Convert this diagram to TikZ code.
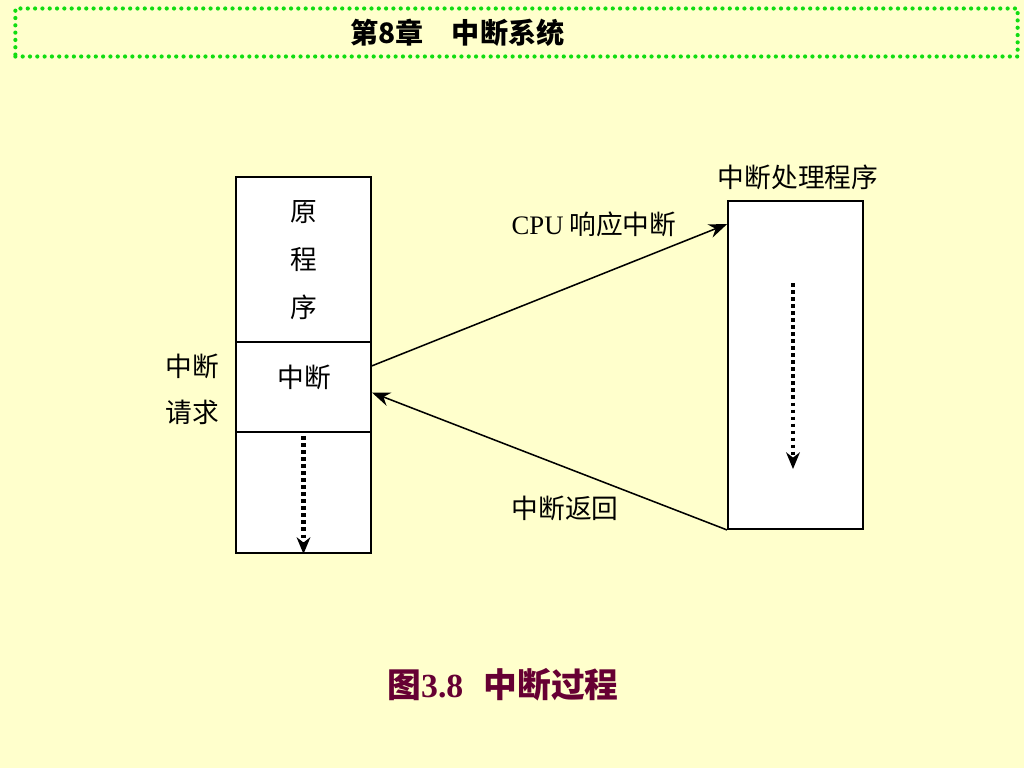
\documentclass[tikz,border=0pt]{standalone}
\usepackage{fontspec}
\setmainfont{Liberation Serif}
\newfontfamily\cjk{Noto Sans CJK SC}
\usetikzlibrary{arrows.meta,calc}

\definecolor{pagebg}{HTML}{FFFFCC}
\definecolor{dotgreen}{HTML}{11DD11}
\definecolor{capred}{HTML}{660033}

\tikzset{
  progbox/.style={draw, line width=1.3pt, fill=white, minimum width=3.375cm, inner sep=0pt},
  lbl/.style={font=\fontsize{19}{21}\selectfont\cjk, inner sep=1pt},
  flow/.style={line width=1.1pt, -{Stealth[length=13pt, width=10pt]}},
  run/.style={line width=3.2pt, dash pattern=on 2.6pt off 2.4pt, -{Stealth[length=12pt, width=10pt, line width=0pt]}}
}

\begin{document}
\begin{tikzpicture}[x=0.025cm, y=-0.025cm]
  \fill[pagebg] (0,0) rectangle (1024,768);
  \useasboundingbox (0,0) rectangle (1024,768);

  % header
  \node[draw=dotgreen, line width=3pt, dash pattern=on 0pt off 5.2pt, line cap=round,
        minimum width=25.05cm, minimum height=1.2cm, font=\fontsize{20}{22}\selectfont\cjk\bfseries]
        (header) at (516.5,32.5) {\hspace*{-2.95cm}第8章\quad 中断系统};

  % original program
  \node[progbox, minimum height=4.125cm] (orig) at (303.5,259.5) {};
  \node[progbox, minimum height=2.25cm] (intr) at (303.5,387) {};
  \node[progbox, minimum height=3.025cm] (rest) at (303.5,492.5) {};
  \node[lbl] (c1) at (304,212) {原};
  \node[lbl] (c2) at (304,260) {程};
  \node[lbl] (c3) at (304,307) {序};
  \node[lbl] (intrtxt) at (304,377) {中断};
  \node[lbl] (req1) at (192,366) {中断};
  \node[lbl] (req2) at (192,412) {请求};
  \draw[run] (rest.north) ++(0,5) coordinate (rs) -- (rest.south);

  % handler
  \node[progbox, minimum height=8.2cm] (handler) at (795.5,365) {};
  \node[lbl] (htitle) at (798,177) {中断处理程序};
  \coordinate (hs) at (793,283);
  \coordinate (he) at (793,469);
  \draw[run] (hs) -- (he);

  % call and return
  \draw[flow] ($(intr.north east)!0.27!(intr.south east)$) coordinate (callfrom) -- ($(handler.north west)!0.073!(handler.south west)$);
  \draw[flow] (handler.south west) -- ($(intr.north east)!0.56!(intr.south east)$);
  \node[lbl] (calltxt) at (594,224) {{\rmfamily CPU} 响应中断};
  \node[lbl] (rettxt) at (565,508) {中断返回};

  % caption
  \node[font=\fontsize{24}{26}\selectfont\bfseries, text=capred] (caption) at (503,685)
       {{\cjk 图}3.8\hspace{0.6em}{\cjk 中断过程}};
\end{tikzpicture}
\end{document}
